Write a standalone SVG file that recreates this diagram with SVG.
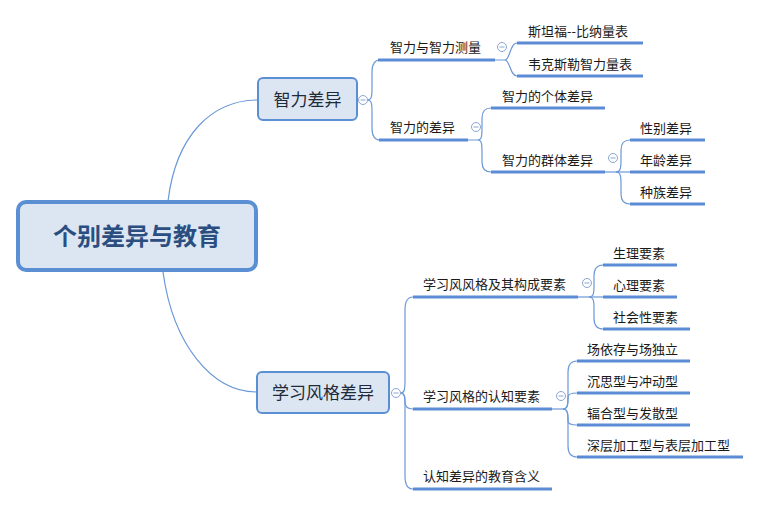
<svg xmlns="http://www.w3.org/2000/svg" width="760" height="506" viewBox="0 0 760 506">
<style>
.t{font-family:"Noto Sans CJK SC","Microsoft YaHei",sans-serif;font-size:13px;fill:#1a1a1a}
.t1{font-family:"Noto Sans CJK SC",sans-serif;font-size:17px;fill:#1f2a3a;text-anchor:middle}
.root{font-family:"Noto Sans CJK SC",sans-serif;font-size:24px;font-weight:bold;fill:#2b4e80;text-anchor:middle}
.ul{stroke:#5b8bd4;stroke-width:3;fill:none}
.c{stroke:#6b98d8;stroke-width:1.2;fill:none}
.box{fill:#dce6f2;stroke:#5b8fd4;stroke-width:2}
.btn{fill:#fff;stroke:#8aa6d0;stroke-width:1}
.mn{stroke:#8aa6d0;stroke-width:1}
</style>
<rect width="760" height="506" fill="#fff"/>
<g id="connectors">
<path class="c" d="M168,201 C176,135 212,100 258,100"/>
<path class="c" d="M163,272 C173,345 212,392 257,392"/>
<path class="c" d="M367.5,100 C372,100 372,95 372,88 L372,72 C372,64 374,60 380,60"/>
<path class="c" d="M367.5,100 C372,100 372,105 372,112 L372,128 C372,136 374,140 380,140"/>
<path class="c" d="M495,60 L505,60 C510,60 510,43 517,43"/>
<path class="c" d="M505,60 C510,60 510,76 517,76"/>
<path class="c" d="M468,140 L478,140 C482,140 482,135 482,126 L482,118 C482,111 485,108 491,108"/>
<path class="c" d="M478,140 C482,140 482,145 482,154 L482,162 C482,169 485,172 491,172"/>
<path class="c" d="M605,172 L630,172"/>
<path class="c" d="M616,172 C621,172 621,166 621,160 L621,150 C621,143 624,140 630,140"/>
<path class="c" d="M616,172 C621,172 621,178 621,184 L621,194 C621,201 624,204 630,204"/>
<path class="c" d="M400.5,393 C405,393 405,388 405,380 L405,310 C405,301 408,297 413,297"/>
<path class="c" d="M400.5,393 C405,393 405,398 405,402 C405,407 408,409 413,409"/>
<path class="c" d="M400.5,393 C405,393 405,398 405,406 L405,476 C405,485 408,489 413,489"/>
<path class="c" d="M578,297 L603,297"/>
<path class="c" d="M589,297 C594,297 594,292 594,285 L594,276 C594,268 597,265 603,265"/>
<path class="c" d="M589,297 C594,297 594,302 594,309 L594,318 C594,326 597,329 603,329"/>
<path class="c" d="M552,409 L563,409"/>
<path class="c" d="M563,409 C568,409 568,404 568,397 C568,395 570,393 577,393"/>
<path class="c" d="M563,409 C568,409 568,403 568,396 L568,372 C568,364 571,361 577,361"/>
<path class="c" d="M563,409 C568,409 568,414 568,421 C568,423 570,425 577,425"/>
<path class="c" d="M563,409 C568,409 568,415 568,422 L568,446 C568,454 571,457 577,457"/>
</g>
<g id="root">
<rect class="box" x="18" y="202" width="238" height="68" rx="8" style="stroke-width:4"/>
<text class="root" x="137" y="245">个别差异与教育</text>
</g>
<g id="n-zhili">
<rect class="box" x="258" y="78" width="99" height="42" rx="5"/>
<text class="t1" x="307.5" y="106">智力差异</text>
<circle class="btn" cx="363" cy="100" r="4.5"/><line class="mn" x1="360.5" y1="100" x2="365.5" y2="100"/>
</g>
<g id="n-xuexi">
<rect class="box" x="257" y="372" width="132" height="41" rx="5"/>
<text class="t1" x="323" y="399">学习风格差异</text>
<circle class="btn" cx="396" cy="393" r="4.5"/><line class="mn" x1="393.5" y1="393" x2="398.5" y2="393"/>
</g>
<g id="n-celiang">
<line class="ul" x1="378" y1="60" x2="495" y2="60"/>
<text class="t" x="390" y="52">智力与智力测量</text>
<circle class="btn" cx="502" cy="47" r="4.5"/><line class="mn" x1="499.5" y1="47" x2="504.5" y2="47"/>
</g>
<g id="n-chayi">
<line class="ul" x1="379" y1="140" x2="468" y2="140"/>
<text class="t" x="390" y="132">智力的差异</text>
<circle class="btn" cx="476" cy="127" r="4.5"/><line class="mn" x1="473.5" y1="127" x2="478.5" y2="127"/>
</g>
<g id="n-sitanfu"><line class="ul" x1="517" y1="43" x2="643" y2="43"/><text class="t" x="528" y="36">斯坦福--比纳量表</text></g>
<g id="n-weikesile"><line class="ul" x1="517" y1="76" x2="643" y2="76"/><text class="t" x="528" y="69">韦克斯勒智力量表</text></g>
<g id="n-geti"><line class="ul" x1="491" y1="108" x2="605" y2="108"/><text class="t" x="502" y="101">智力的个体差异</text></g>
<g id="n-qunti">
<line class="ul" x1="491" y1="172" x2="605" y2="172"/><text class="t" x="502" y="165">智力的群体差异</text>
<circle class="btn" cx="613" cy="158" r="4.5"/><line class="mn" x1="610.5" y1="158" x2="615.5" y2="158"/>
</g>
<g id="n-xingbie"><line class="ul" x1="630" y1="140" x2="705" y2="140"/><text class="t" x="640" y="133">性别差异</text></g>
<g id="n-nianling"><line class="ul" x1="630" y1="172" x2="705" y2="172"/><text class="t" x="640" y="165">年龄差异</text></g>
<g id="n-zhongzu"><line class="ul" x1="630" y1="204" x2="705" y2="204"/><text class="t" x="640" y="197">种族差异</text></g>
<g id="n-goucheng">
<line class="ul" x1="413" y1="297" x2="578" y2="297"/><text class="t" x="423" y="289">学习风风格及其构成要素</text>
<circle class="btn" cx="587" cy="283" r="4.5"/><line class="mn" x1="584.5" y1="283" x2="589.5" y2="283"/>
</g>
<g id="n-renzhi">
<line class="ul" x1="413" y1="409" x2="552" y2="409"/><text class="t" x="423" y="401">学习风格的认知要素</text>
<circle class="btn" cx="561" cy="396" r="4.5"/><line class="mn" x1="558.5" y1="396" x2="563.5" y2="396"/>
</g>
<g id="n-hanyi"><line class="ul" x1="413" y1="489" x2="552" y2="489"/><text class="t" x="423" y="481">认知差异的教育含义</text></g>
<g id="n-shengli"><line class="ul" x1="603" y1="265" x2="677" y2="265"/><text class="t" x="613" y="258">生理要素</text></g>
<g id="n-xinli"><line class="ul" x1="603" y1="297" x2="677" y2="297"/><text class="t" x="613" y="290">心理要素</text></g>
<g id="n-shehui"><line class="ul" x1="603" y1="329" x2="690" y2="329"/><text class="t" x="613" y="322">社会性要素</text></g>
<g id="n-changyicun"><line class="ul" x1="577" y1="361" x2="690" y2="361"/><text class="t" x="587" y="354">场依存与场独立</text></g>
<g id="n-chensi"><line class="ul" x1="577" y1="393" x2="690" y2="393"/><text class="t" x="587" y="386">沉思型与冲动型</text></g>
<g id="n-fuhe"><line class="ul" x1="577" y1="425" x2="690" y2="425"/><text class="t" x="587" y="418">辐合型与发散型</text></g>
<g id="n-shenceng"><line class="ul" x1="577" y1="457" x2="743" y2="457"/><text class="t" x="587" y="450">深层加工型与表层加工型</text></g>
</svg>
